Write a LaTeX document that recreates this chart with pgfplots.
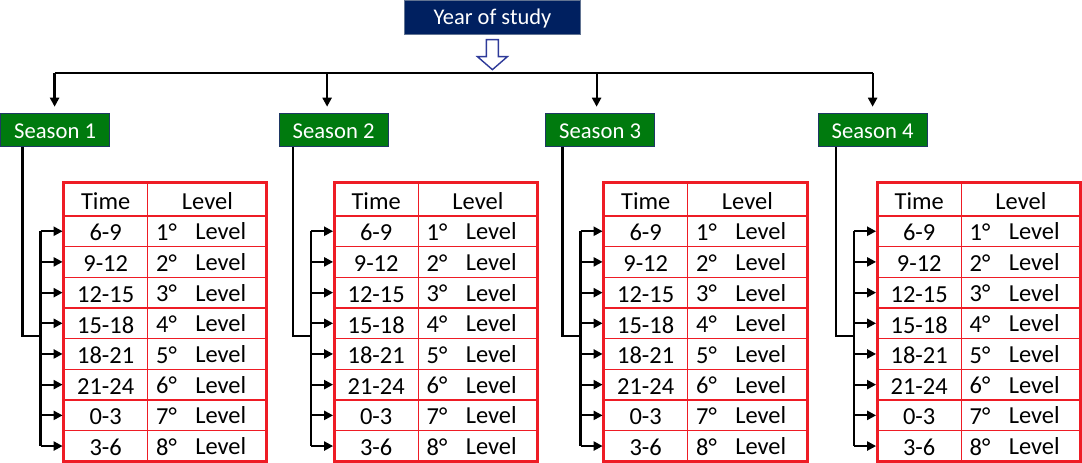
\documentclass[border=0pt]{standalone}
\usepackage{fontspec}
\setmainfont{Carlito}
\usepackage{pgfplots}
\pgfplotsset{compat=1.18}
\usetikzlibrary{arrows.meta}
\definecolor{tred}{HTML}{EE1C25}
\definecolor{navy}{HTML}{002060}
\definecolor{sgreen}{HTML}{007A0E}
\definecolor{sborder}{HTML}{1F3864}
\definecolor{arrblue}{HTML}{2E3A99}
\newcommand{\tf}{\fontsize{12.2}{14}\selectfont}
\newcommand{\trow}[4]{% #1 left, #2 y, #3 time, #4 level number
  \node[font=\tf] at (axis cs:#1+42,#2+1.5) {#3};
  \node[font=\tf,anchor=west,inner sep=0pt] at (axis cs:#1+92,#2+1) {#4°};
  \node[font=\tf,anchor=west,inner sep=0pt] at (axis cs:#1+131,#2) {Level};
  \draw[line width=1.1pt,-{Triangle[length=4.5pt,width=4.5pt]}] (axis cs:#1-23,#2) -- (axis cs:#1-1,#2);
}
\newcommand{\seasontable}[1]{% #1 = left x of table
  % connectors
  \draw[line width=1.1pt] (axis cs:#1-41,148) |- (axis cs:#1-23,337);
  \draw[line width=1.1pt] (axis cs:#1-23,232.3) -- (axis cs:#1-23,446.7);
  % grid
  \draw[tred,line width=0.6pt] (axis cs:#1,217) -- (axis cs:#1+203,217);
  \draw[tred,line width=0.6pt] (axis cs:#1,247.6) -- (axis cs:#1+203,247.6);
  \draw[tred,line width=0.6pt] (axis cs:#1,278.25) -- (axis cs:#1+203,278.25);
  \draw[tred,line width=0.6pt] (axis cs:#1,308.9) -- (axis cs:#1+203,308.9);
  \draw[tred,line width=0.6pt] (axis cs:#1,339.5) -- (axis cs:#1+203,339.5);
  \draw[tred,line width=0.6pt] (axis cs:#1,370.1) -- (axis cs:#1+203,370.1);
  \draw[tred,line width=0.6pt] (axis cs:#1,400.75) -- (axis cs:#1+203,400.75);
  \draw[tred,line width=0.6pt] (axis cs:#1,431.4) -- (axis cs:#1+203,431.4);
  \draw[tred,line width=0.6pt] (axis cs:#1+84,184) -- (axis cs:#1+84,462);
  \draw[tred,line width=1.5pt] (axis cs:#1,184) rectangle (axis cs:#1+203,462);
  % header
  \node[font=\tf] at (axis cs:#1+42,202) {Time};
  \node[font=\tf] at (axis cs:#1+143.5,202) {Level};
  \trow{#1}{232.3}{6-9}{1}
  \trow{#1}{262.9}{9-12}{2}
  \trow{#1}{293.6}{12-15}{3}
  \trow{#1}{324.2}{15-18}{4}
  \trow{#1}{354.8}{18-21}{5}
  \trow{#1}{385.4}{21-24}{6}
  \trow{#1}{416.1}{0-3}{7}
  \trow{#1}{446.7}{3-6}{8}
}
\newcommand{\season}[3]{% #1 x1, #2 x2, #3 label
  \filldraw[fill=sgreen,draw=sborder,line width=0.5pt] (axis cs:#1,115) rectangle (axis cs:#2,148);
  \node[font=\fontsize{11.3}{13}\selectfont,text=white] at (axis cs:#1/2+#2/2,132) {#3};
}
\begin{document}
\begin{tikzpicture}
\begin{axis}[x=0.5pt,y=0.5pt,y dir=reverse,xmin=0,xmax=1082,ymin=0,ymax=463,
  hide axis,clip=false,scale only axis]
% top box
\filldraw[fill=navy,draw=sborder!70!white,line width=0.5pt] (axis cs:406,2) rectangle (axis cs:582,36);
\node[font=\fontsize{11.2}{13}\selectfont,text=white] at (axis cs:494,19.5) {Year of study};
% hollow arrow
\filldraw[fill=white,draw=arrblue,line width=0.7pt,line join=miter]
  (axis cs:488,41) -- (axis cs:488,58) -- (axis cs:479,58) -- (axis cs:494,71)
  -- (axis cs:509,58) -- (axis cs:500,58) -- (axis cs:500,41) -- cycle;
% distribution line
\draw[line width=1.1pt] (axis cs:57,74.5) -- (axis cs:873.5,74.5);
\draw[line width=1.1pt,-{Triangle[length=4.5pt,width=4.5pt]}] (axis cs:57,74.5) -- (axis cs:57,108);
\draw[line width=1.1pt,-{Triangle[length=4.5pt,width=4.5pt]}] (axis cs:329,74.5) -- (axis cs:329,108);
\draw[line width=1.1pt,-{Triangle[length=4.5pt,width=4.5pt]}] (axis cs:598,74.5) -- (axis cs:598,108);
\draw[line width=1.1pt,-{Triangle[length=4.5pt,width=4.5pt]}] (axis cs:873.5,74.5) -- (axis cs:873.5,108);
% seasons
\season{3}{112}{Season 1}
\season{281}{390}{Season 2}
\season{547}{656}{Season 3}
\season{819}{928}{Season 4}
% tables
\seasontable{66}
\seasontable{336}
\seasontable{605}
\seasontable{878}
\end{axis}
\end{tikzpicture}
\end{document}
